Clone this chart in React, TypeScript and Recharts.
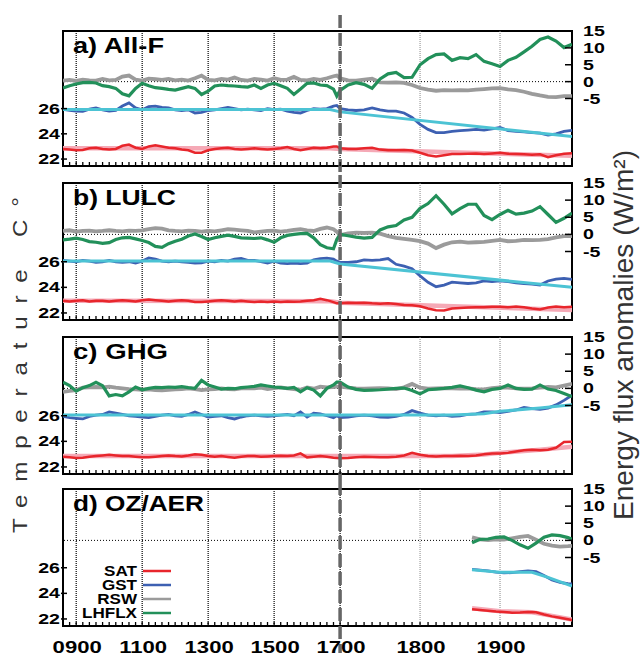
import React from "react";
import {
  LineChart,
  Line,
  XAxis,
  YAxis,
  ReferenceLine,
  ReferenceArea,
  Legend,
} from "recharts";

const FONT = "'Liberation Sans', Arial, Helvetica, sans-serif";

// sample years for panels a-c: every 20 yr before 1700, every 10 yr after
const YEARS = [
  860, 880, 900, 920, 940, 960, 980, 1000, 1020, 1040,
  1060, 1080, 1100, 1120, 1140, 1160, 1180, 1200, 1220, 1240,
  1260, 1280, 1300, 1320, 1340, 1360, 1380, 1400, 1420, 1440,
  1460, 1480, 1500, 1520, 1540, 1560, 1580, 1600, 1620, 1640,
  1660, 1680, 1690,
  1700, 1710, 1720, 1730, 1740, 1750, 1760, 1770, 1780, 1790,
  1800, 1810, 1820, 1830, 1840, 1850, 1860, 1870, 1880, 1890,
  1900, 1910, 1920, 1930, 1940, 1950, 1960, 1970, 1980, 1990,
];

// a) All-F
const A_LHFLX = [
  -1.9, -1.2, -0.7, -0.3, -0.2, -0.4, -1.2, -1.5, -2.0, -3.6,
  -4.2, -2.0, -0.5, -1.2, -1.8, -2.0, -2.3, -2.5, -2.0, -1.5,
  -2.0, -3.8, -2.8, -1.3, -1.0, -1.2, -1.3, -1.5, -1.6, -1.0,
  -2.0, -1.0, -0.5, -1.2, -2.0, -3.8, -2.2, -0.5, -0.4, -1.0,
  -1.2, -2.2, -4.3,
  -2.6, -1.0, -0.3, -0.8, -2.0, 0.8, 2.3, 2.7, 1.2, 1.3,
  5.0, 6.8, 8.0, 8.2, 6.3, 7.1, 6.8, 8.0, 6.0, 5.3,
  4.5, 6.3, 7.2, 8.8, 10.5, 12.5, 13.2, 12.0, 10.1, 11.1,
];
const A_RSW = [
  0.3, 0.5, 0.2, 0.6, 0.4, 0.3, 0.8, 0.4, 0.5, 1.5,
  1.8, 0.6, 0.3, 0.9, 0.7, 0.5, 0.8, 0.4, 0.6, 0.3,
  1.0, 1.8, 0.5, 0.4, 0.8, 0.6, 1.2, 0.5, 0.3, 0.8,
  0.6, 0.3, 1.0, 0.5, 0.6, 1.4, 0.5, 0.4, 0.8, 0.5,
  1.0, 1.6, 1.8,
  1.0, 0.4, 0.3, 0.6, 0.9, -0.2, -0.3, -0.2, -0.4, -1.0,
  -1.9, -2.4, -2.7, -2.5, -2.6, -2.5, -2.6, -2.4, -2.2, -2.0,
  -1.9, -2.3, -2.5, -3.0, -3.6, -4.1, -4.5, -4.6, -4.3, -4.3,
];
const A_GST = [
  25.95, 25.85, 25.8, 25.78, 25.95, 26.05, 25.9, 25.8, 25.85, 26.2,
  26.45, 26.05, 25.9, 26.15, 26.2, 26.1, 26.05, 25.9, 25.85, 25.9,
  25.65, 25.7, 25.85, 25.9, 26.0, 26.1, 26.0, 25.9, 25.95, 25.9,
  25.85, 26.0, 25.92, 25.95, 25.8, 25.7, 25.65, 25.85, 26.0, 25.95,
  26.0, 26.2, 26.25,
  26.0, 25.9, 25.85, 25.9, 26.05, 25.9, 25.8, 25.8, 25.65, 25.3,
  24.75, 24.35, 24.1, 24.1, 24.2, 24.25, 24.3, 24.35, 24.3, 24.4,
  24.5, 24.25, 24.2, 24.15, 24.1, 24.05, 23.9, 24.0, 24.2, 24.27,
];
const A_SAT = [
  22.8, 22.75, 22.7, 22.72, 22.85, 22.9, 22.8, 22.75, 22.8, 23.05,
  23.15, 22.9, 22.8, 23.0, 23.1, 23.0, 22.9, 22.85, 22.75, 22.7,
  22.5, 22.5, 22.7, 22.8, 22.85, 22.9, 22.8, 22.75, 22.8, 22.85,
  22.8, 22.75, 22.8, 22.85, 22.95, 22.8, 22.7, 22.8, 22.9, 22.85,
  22.9, 23.0, 23.0,
  22.85, 22.8, 22.8, 22.85, 22.9, 22.75, 22.7, 22.7, 22.72, 22.68,
  22.5, 22.3, 22.2, 22.3, 22.4, 22.4, 22.42, 22.45, 22.4, 22.45,
  22.5, 22.42, 22.4, 22.38, 22.35, 22.38, 22.15, 22.3, 22.42, 22.47,
];

// b) LULC
const B_LHFLX = [
  -1.6, -1.4, -1.1, -1.5, -2.1, -2.3, -2.6, -2.4, -1.5, -1.0,
  -0.9, -1.3, -1.8, -2.4, -3.5, -3.8, -2.7, -2.0, -1.4, -0.5,
  0.1, -0.6, -1.5, -1.0, -0.6, -0.2, -0.6, -1.0, -1.1, -1.2,
  -1.0, -1.6, -2.3, -1.0, -0.3, 0.0, 0.2, 0.3, -1.0, -3.0,
  -3.9, -4.2, -1.5,
  0.0, -0.4, -0.8, -1.1, -0.9, 1.3, 2.2, 2.6, 4.2, 5.0,
  7.6, 9.0, 11.3, 8.8, 6.0, 7.5, 8.8, 8.8, 5.5, 4.3,
  5.8, 7.0, 5.9, 6.2, 6.8, 8.1, 5.8, 3.5, 4.7, 6.2,
];
const B_RSW = [
  1.0, 1.2, 0.8, 1.0, 1.1, 0.9, 1.0, 1.2, 1.0, 0.9,
  1.1, 1.0, 1.2, 1.5, 1.8, 1.7, 1.2, 1.0, 0.9, 1.1,
  1.0, 0.8, 1.0, 0.9, 1.2, 1.5, 1.4, 1.2, 1.0, 0.6,
  0.8, 1.0, 1.1, 0.8, 1.0, 1.3, 1.5, 1.2, 1.0, 1.6,
  2.0, 1.5, 0.8,
  -0.2, 0.3, 0.5, 0.4, 0.5, 0.2, -0.5, -1.0, -1.3, -1.6,
  -2.0, -2.7, -4.0, -3.0, -2.3, -2.1, -2.4, -2.3, -2.2, -1.9,
  -1.6, -2.0, -1.9, -1.6, -1.7, -1.6, -1.4, -0.9, -0.5, -0.5,
];
const B_GST = [
  26.1, 26.05, 26.0, 26.1, 26.05, 25.95, 26.0, 26.1, 26.0, 25.95,
  26.0, 25.9, 26.05, 26.3, 26.2, 26.05, 26.0, 26.05, 26.0, 25.95,
  25.9, 25.92, 26.05, 26.0, 26.1, 26.05, 26.2, 26.25, 26.1, 26.1,
  26.0, 25.9, 26.05, 25.9, 25.85, 25.9, 25.85, 25.9, 26.15, 26.25,
  26.28, 26.2, 26.05,
  25.95, 25.95, 26.0, 26.15, 26.1, 26.15, 26.25, 25.8, 25.65, 25.45,
  24.9, 24.4, 24.05, 24.18, 24.4, 24.35, 24.3, 24.35, 24.5, 24.45,
  24.5, 24.45, 24.35, 24.3, 24.25, 24.18, 24.5, 24.65, 24.7, 24.62,
];
const B_SAT = [
  22.95, 22.9, 22.95, 23.0, 22.9, 22.95, 22.95, 22.9, 22.95, 23.0,
  22.95, 22.9, 23.0, 23.05, 23.0, 22.95, 22.9, 22.95, 23.0, 22.95,
  22.85, 22.85, 22.9, 22.95, 23.0, 22.95, 22.9, 22.95, 22.9, 22.85,
  22.9, 22.85, 22.9, 22.85, 22.9, 22.88, 22.9, 22.95, 23.0, 23.1,
  23.0, 22.85, 22.75,
  22.75, 22.8, 22.78, 22.8, 22.75, 22.72, 22.75, 22.7, 22.62, 22.6,
  22.52, 22.35, 22.22, 22.2, 22.35, 22.38, 22.42, 22.45, 22.45, 22.48,
  22.48, 22.45, 22.5, 22.45, 22.35, 22.28, 22.42, 22.5, 22.45, 22.48,
];

// c) GHG
const C_LHFLX = [
  1.8, 0.8, -0.8, 0.2, 0.8, 1.8, 0.8, -2.2, -1.8, -2.2,
  -1.0, 0.4, -0.4, 0.0, 0.3, 0.2, 0.4, 0.3, 0.5, 0.2,
  0.0, 2.3, 1.0, 0.4, -0.2, 0.0, -0.1, 0.2, 0.4, 0.6,
  1.0, 0.7, 0.4, 0.2, 0.0, 0.3, -1.0, 0.2, -0.5, -2.2,
  0.0, 1.0, 1.8,
  1.8, 0.4, -0.3, -0.6, -0.5, -0.4, -0.2, 0.0, 0.1, -0.6,
  -1.6, -0.4, -0.2, 0.0, 0.3, 0.7, 0.2, -0.5, -1.0, -0.3,
  0.0, 1.0, 0.0, -0.3, -0.2, 1.0, -0.2, -0.6, -1.5, -2.4,
];
const C_RSW = [
  -1.0, -0.7, -0.5, 0.2, 0.3, 0.4, 0.3, 0.5, 0.2, 0.0,
  -0.2, -0.3, -0.4, -0.3, -0.5, -0.6, -0.4, -0.3, -0.2, 0.0,
  -0.2, -0.5, -0.3, -0.2, 0.0, -0.2, -0.3, 0.0, 0.1, 0.0,
  0.2, -0.2, 0.1, 0.3, 0.0, -0.2, -0.4, 0.3, -0.1, 0.5,
  0.3, 0.4, 0.5,
  0.5, 0.2, 0.0, -0.1, 0.0, 0.1, 0.0, -0.2, 0.3, 1.3,
  0.2, -0.1, 0.0, 0.1, 0.0, -0.1, 0.0, -0.2, -0.3, 0.1,
  0.3, 0.2, 0.0, -0.1, 0.0, 0.2, 0.4, 0.3, 0.8, 1.3,
];
const C_GST = [
  25.95, 25.85, 25.8, 25.75, 25.95, 26.05, 26.1, 26.3, 26.2, 26.1,
  26.0, 25.95, 25.9, 25.85, 25.95, 26.05, 26.1, 26.0, 25.95, 26.1,
  26.3, 26.1, 25.9, 25.95, 26.0, 25.85, 25.75, 25.9, 26.0, 26.05,
  26.0, 25.95, 26.0, 26.05, 26.1, 26.0, 26.3, 25.9, 26.2, 26.15,
  26.0, 25.85, 26.0,
  25.85, 25.9, 26.0, 26.05, 26.0, 25.9, 25.87, 25.95, 26.1, 26.4,
  26.2, 26.05, 26.0, 26.05, 25.95, 26.0, 26.1, 26.15, 26.3, 26.3,
  26.25, 26.35, 26.45, 26.65, 26.55, 26.5, 26.6, 26.85, 27.2, 27.6,
];
const C_SAT = [
  22.8, 22.75, 22.7, 22.72, 22.8, 22.85, 22.9, 22.95, 22.9, 22.85,
  22.85, 22.8, 22.75, 22.75, 22.8, 22.85, 22.9, 22.85, 22.82, 22.9,
  23.0, 22.95, 22.85, 22.8, 22.85, 22.78, 22.72, 22.8, 22.85, 22.85,
  22.8, 22.82, 22.85, 22.88, 22.85, 22.9, 23.06, 22.75, 22.8, 22.85,
  22.8, 22.72, 22.7,
  22.68, 22.7, 22.75, 22.8, 22.78, 22.75, 22.76, 22.8, 22.9, 23.1,
  22.95, 22.85, 22.82, 22.85, 22.85, 22.88, 22.85, 22.9, 23.0, 23.05,
  23.05, 23.1, 23.2, 23.3, 23.35, 23.3, 23.35, 23.5, 23.95, 23.97,
];

// d) OZ/AER (only the late period)
const YEARS_D = [1865, 1875, 1885, 1895, 1905, 1915, 1925, 1935, 1945, 1955, 1965, 1975, 1985, 1990];
const D_LHFLX = [-0.7, 0.3, 0.4, 0.9, 1.0, 0.0, -1.3, -2.3, -0.8, 0.9, 1.6, 1.4, 0.8, 0.3];
const D_RSW = [0.9, 0.3, 0.1, 0.3, 0.2, 0.6, 1.0, 1.3, 0.2, -1.0, -1.5, -1.8, -1.7, -1.6];
const D_GST = [25.87, 25.82, 25.75, 25.65, 25.6, 25.62, 25.7, 25.76, 25.7, 25.4, 25.05, 24.85, 24.75, 24.73];
const D_SAT = [22.75, 22.7, 22.65, 22.58, 22.55, 22.48, 22.5, 22.55, 22.52, 22.35, 22.2, 22.1, 21.98, 21.92];

// smoothed trend curves (light pink over SAT, cyan over GST)
const FIT_YEARS_AB = [860, 1670, 1700, 1990];
const A_SAT_FIT = [22.85, 22.85, 22.8, 22.26];
const A_GST_FIT = [25.92, 25.92, 25.74, 23.78];
const B_SAT_FIT = [22.95, 22.92, 22.8, 22.23];
const B_GST_FIT = [26.05, 26.05, 25.82, 24.0];
const FIT_YEARS_C = [860, 1840, 1880, 1900, 1950, 1990];
const C_SAT_FIT = [22.85, 22.85, 22.98, 23.1, 23.35, 23.58];
const C_GST_FIT = [26.05, 26.05, 26.15, 26.35, 26.6, 26.85];
const FIT_YEARS_D = [1865, 1900, 1940, 1960, 1990];
const D_SAT_FIT = [22.83, 22.6, 22.52, 22.3, 21.95];
const D_GST_FIT = [25.85, 25.65, 25.64, 25.25, 24.57];

const LEGEND_ITEMS = [
  { name: "SAT", color: "#e8262c" },
  { name: "GST", color: "#3d60b2" },
  { name: "RSW", color: "#9b9b9b" },
  { name: "LHFLX", color: "#22905a" },
];

const TEMP_TICKS = [22, 24, 26];
const FLUX_TICKS = [-5, 0, 5, 10, 15];
const LABEL_YEARS = [900, 1100, 1300, 1500, 1700, 1800, 1900];
const GRID_DARK = [900, 1100, 1300, 1500, 1700];
const GRID_LIGHT = [1800, 1900];

// the axis is broken: before 1700 a year takes 0.33px, after it 0.8px
const R = 0.33 / 0.8;
const toT = (y: number) => (y >= 1700 ? y : 1700 - (1700 - y) * R);
const fromT = (t: number) => Math.round(t >= 1700 ? t : 1700 - (1700 - t) / R);

const X_MIN = toT(860);
const X_MAX = 1990;
const TEMP_DOMAIN = [21.45, 32.15];
const FLUX_DOMAIN = [-25, 15];
const MINOR_TICKS = [
  ...Array.from({ length: 41 }, (_, i) => 880 + i * 20),
  ...Array.from({ length: 29 }, (_, i) => 1700 + i * 10),
].map(toT);

const C = {
  sat: "#e8262c",
  satFit: "#f5a9b6",
  gst: "#3d60b2",
  gstFit: "#4cc3d4",
  rsw: "#9b9b9b",
  lh: "#22905a",
};

const rowsOf = (years, sat, gst, rsw, lh) =>
  years.map((y, i) => ({ t: toT(y), sat: sat[i], gst: gst[i], rsw: rsw[i], lh: lh[i] }));
const fitOf = (years, vals) => years.map((y, i) => ({ t: toT(y), v: vals[i] }));

const PANELS = [
  {
    title: "a) All-F", titleW: 91, top: 0, height: 175, mTop: 31, mBottom: 1, xH: 8,
    rows: rowsOf(YEARS, A_SAT, A_GST, A_RSW, A_LHFLX),
    satFit: fitOf(FIT_YEARS_AB, A_SAT_FIT), gstFit: fitOf(FIT_YEARS_AB, A_GST_FIT),
    dashTop: 16, dashBottom: 9, last: false,
  },
  {
    title: "b) LULC", titleW: 103, top: 175, height: 153, mTop: 8, mBottom: 0, xH: 8,
    rows: rowsOf(YEARS, B_SAT, B_GST, B_RSW, B_LHFLX),
    satFit: fitOf(FIT_YEARS_AB, B_SAT_FIT), gstFit: fitOf(FIT_YEARS_AB, B_GST_FIT),
    dashTop: 8, dashBottom: 8, last: false,
  },
  {
    title: "c) GHG", titleW: 95, top: 328, height: 154, mTop: 9, mBottom: 0, xH: 8,
    rows: rowsOf(YEARS, C_SAT, C_GST, C_RSW, C_LHFLX),
    satFit: fitOf(FIT_YEARS_C, C_SAT_FIT), gstFit: fitOf(FIT_YEARS_C, C_GST_FIT),
    dashTop: 9, dashBottom: 8, last: false,
  },
  {
    title: "d) OZ/AER", titleW: 131, top: 482, height: 174, mTop: 7, mBottom: 0, xH: 30,
    rows: rowsOf(YEARS_D, D_SAT, D_GST, D_RSW, D_LHFLX),
    satFit: fitOf(FIT_YEARS_D, D_SAT_FIT), gstFit: fitOf(FIT_YEARS_D, D_GST_FIT),
    dashTop: 7, dashBottom: 27, last: true,
  },
];

const LeftTick = ({ x, y, payload }) => (
  <g>
    <line x1={x - 2} x2={x + 4} y1={y} y2={y} stroke="#000" strokeWidth={1.5} />
    <text
      transform={`translate(${x - 3},${y + 5}) scale(1.4,1)`}
      textAnchor="end"
      fontSize={14}
      fontWeight="bold"
      fontFamily={FONT}
      fill="#000"
    >
      {payload.value}
    </text>
  </g>
);

const RightTick = ({ x, y, payload }) => (
  <g>
    <line x1={x - 7} x2={x} y1={y} y2={y} stroke="#000" strokeWidth={1.5} />
    <text
      transform={`translate(${x + 11},${y + 5}) scale(1.4,1)`}
      textAnchor="start"
      fontSize={14}
      fontWeight="bold"
      fontFamily={FONT}
      fill="#000"
    >
      {payload.value}
    </text>
  </g>
);

const XTick = ({ x, y, payload, showLabel }) => {
  const year = fromT(payload.value);
  return (
    <g>
      <line x1={x} x2={x} y1={y} y2={y - 4} stroke="#000" strokeWidth={1.3} />
      {showLabel && LABEL_YEARS.includes(year) && (
        <text
          transform={`translate(${x + 1},${y + 27}) scale(1.3,1)`}
          textAnchor="middle"
          fontSize={17}
          fontWeight="bold"
          fontFamily={FONT}
          fill="#000"
        >
          {String(year).padStart(4, "0")}
        </text>
      )}
    </g>
  );
};

const PanelTitle = ({ viewBox, text, width }) => (
  <text
    x={viewBox.x + 10}
    y={viewBox.y + 22}
    fontSize={22}
    fontWeight="bold"
    fontFamily={FONT}
    fill="#000"
    textLength={width}
    lengthAdjust="spacingAndGlyphs"
  >
    {text}
  </text>
);

const LegendBox = () => (
  <svg width={120} height={60}>
    {LEGEND_ITEMS.map((item, i) => (
      <g key={item.name}>
        <text
          transform={`translate(77,${11 + i * 14 + 5}) scale(1.22,1)`}
          textAnchor="end"
          fontSize={14}
          fontWeight="bold"
          fontFamily={FONT}
          fill="#000"
        >
          {item.name}
        </text>
        <line x1={83} x2={111} y1={11 + i * 14} y2={11 + i * 14} stroke={item.color} strokeWidth={2.5} />
      </g>
    ))}
  </svg>
);

const Panel = ({ p }) => {
  const dashShape = (props) => {
    const top = Math.min(props.y1, props.y2) - p.dashTop;
    const bottom = Math.max(props.y1, props.y2) + p.dashBottom;
    return (
      <line
        x1={props.x1}
        x2={props.x1}
        y1={top}
        y2={bottom}
        stroke="#666"
        strokeWidth={3.5}
        strokeDasharray="13 5"
      />
    );
  };

  return (
    <div style={{ position: "absolute", left: 0, top: p.top }}>
      <LineChart
        width={641}
        height={p.height}
        data={p.rows}
        margin={{ top: p.mTop, right: 29, bottom: p.mBottom, left: 23 }}
      >
        <XAxis
          type="number"
          dataKey="t"
          domain={[X_MIN, X_MAX]}
          allowDataOverflow
          ticks={MINOR_TICKS}
          interval={0}
          height={p.xH}
          tickSize={0}
          tickMargin={0}
          axisLine={false}
          tickLine={false}
          tick={(props) => <XTick {...props} showLabel={p.last} />}
        />
        <YAxis
          yAxisId="temp"
          orientation="left"
          type="number"
          domain={TEMP_DOMAIN}
          allowDataOverflow
          ticks={TEMP_TICKS}
          interval={0}
          width={40}
          tickSize={0}
          tickMargin={0}
          axisLine={false}
          tickLine={false}
          tick={(props) => <LeftTick {...props} />}
        />
        <YAxis
          yAxisId="flux"
          orientation="right"
          type="number"
          domain={FLUX_DOMAIN}
          allowDataOverflow
          ticks={FLUX_TICKS}
          interval={0}
          width={40}
          tickSize={0}
          tickMargin={0}
          axisLine={false}
          tickLine={false}
          tick={(props) => <RightTick {...props} />}
        />

        {GRID_DARK.map((y) => (
          <ReferenceLine key={y} yAxisId="temp" x={toT(y)} stroke="#000" strokeWidth={1.2} strokeDasharray="1 1" />
        ))}
        {GRID_LIGHT.map((y) => (
          <ReferenceLine key={y} yAxisId="temp" x={toT(y)} stroke="#888" strokeWidth={1} strokeDasharray="1 1" />
        ))}
        <ReferenceLine yAxisId="flux" y={0} stroke="#000" strokeWidth={1} strokeDasharray="1 2" />

        <Line yAxisId="temp" data={p.satFit} dataKey="v" stroke={C.satFit} strokeWidth={4.5} dot={false} isAnimationActive={false} />
        <Line yAxisId="temp" dataKey="sat" stroke={C.sat} strokeWidth={2.5} dot={false} isAnimationActive={false} />
        <Line yAxisId="temp" dataKey="gst" stroke={C.gst} strokeWidth={2.8} dot={false} isAnimationActive={false} />
        <Line yAxisId="temp" data={p.gstFit} dataKey="v" stroke={C.gstFit} strokeWidth={3} dot={false} isAnimationActive={false} />
        <Line yAxisId="flux" dataKey="rsw" stroke={C.rsw} strokeWidth={3.8} dot={false} isAnimationActive={false} />
        <Line yAxisId="flux" dataKey="lh" stroke={C.lh} strokeWidth={3.2} dot={false} isAnimationActive={false} />

        <ReferenceLine yAxisId="temp" x={1700} shape={dashShape} />

        <ReferenceArea
          yAxisId="temp"
          x1={X_MIN}
          x2={X_MAX}
          y1={TEMP_DOMAIN[0]}
          y2={TEMP_DOMAIN[1]}
          fill="none"
          fillOpacity={0}
          stroke="#000"
          strokeWidth={2}
          ifOverflow="visible"
          label={<PanelTitle text={p.title} width={p.titleW} />}
        />

        {p.last && (
          <Legend
            layout="horizontal"
            verticalAlign="middle"
            align="center"
            wrapperStyle={{ left: 60, top: 78, width: 120, height: 60 }}
            content={() => <LegendBox />}
          />
        )}
      </LineChart>
    </div>
  );
};

export default function App() {
  return (
    <div style={{ position: "absolute", left: 0, top: 0, width: 641, height: 656, background: "#fff" }}>
      {PANELS.map((p) => (
        <Panel key={p.title} p={p} />
      ))}
      <svg
        width={641}
        height={656}
        style={{ position: "absolute", left: 0, top: 0, pointerEvents: "none" }}
      >
        <text
          transform="translate(27,365) rotate(-90) scale(1.15,1)"
          textAnchor="middle"
          fontSize={21}
          fontFamily={FONT}
          fill="#333"
          textLength={292}
          lengthAdjust="spacing"
        >
          Temperature C°
        </text>
        <text
          transform="translate(633,335) rotate(-90)"
          textAnchor="middle"
          fontSize={27}
          fontFamily={FONT}
          fill="#333"
          textLength={370}
          lengthAdjust="spacingAndGlyphs"
        >
          Energy flux anomalies (W/m²)
        </text>
      </svg>
    </div>
  );
}
